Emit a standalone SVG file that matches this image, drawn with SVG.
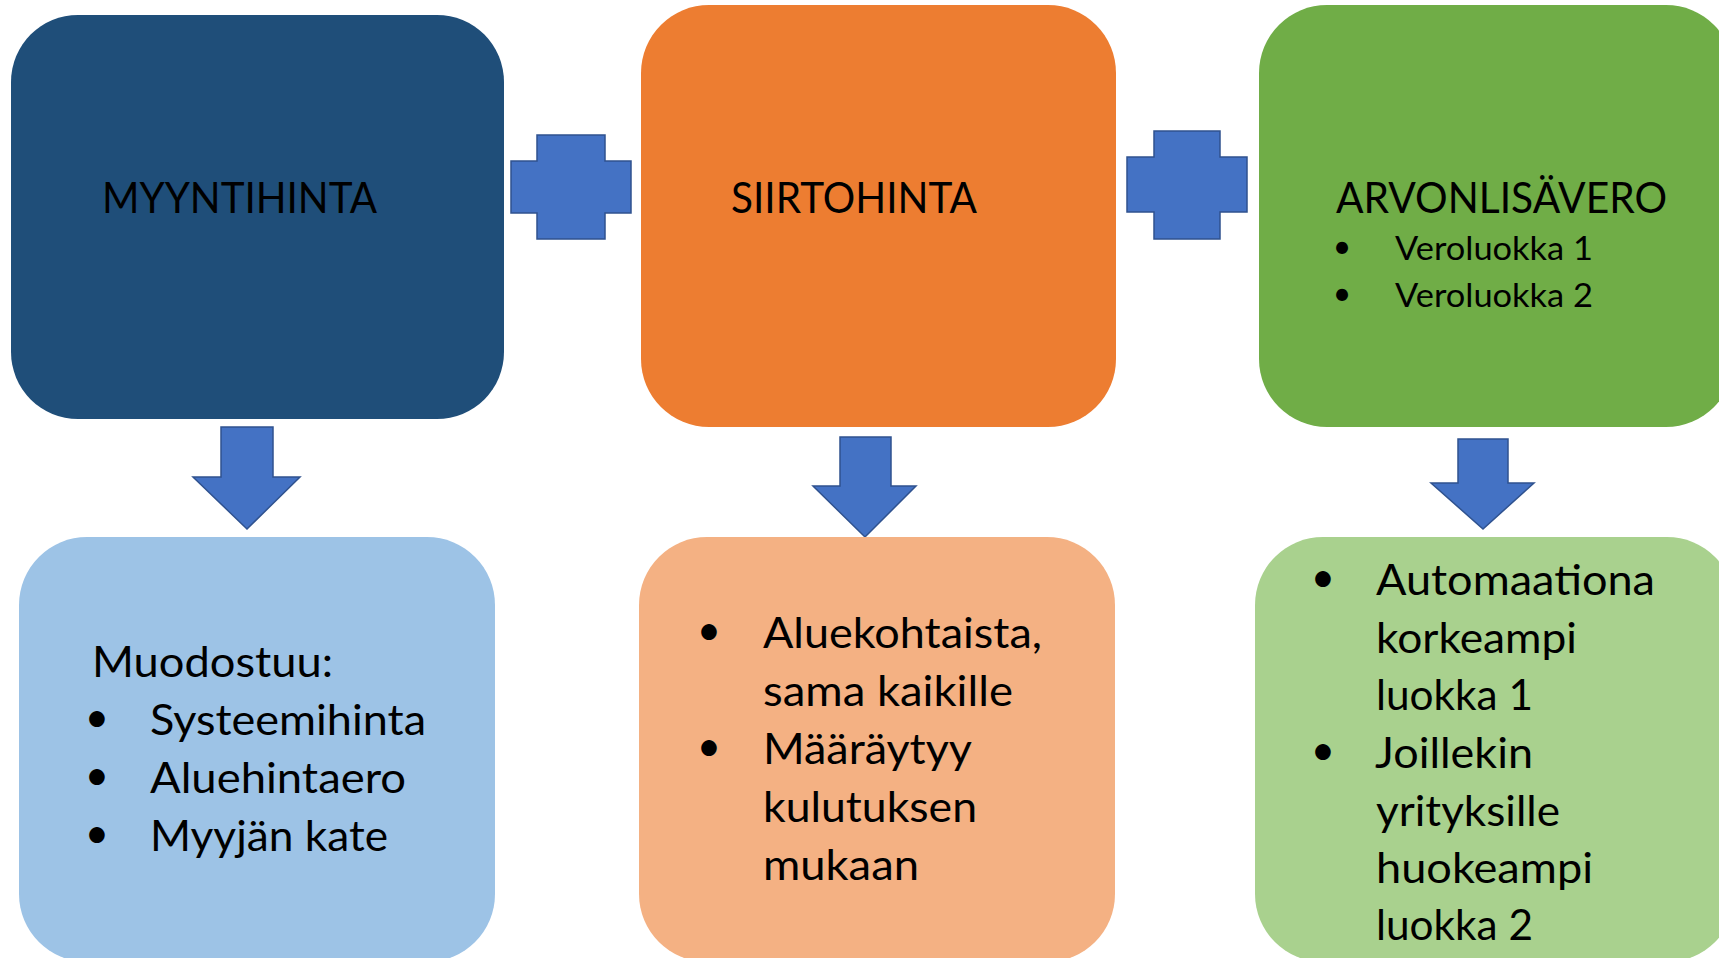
<svg xmlns="http://www.w3.org/2000/svg" width="1719" height="958" viewBox="0 0 1719 958">
<style>
.t{font-family:Lato,"Open Sans","Liberation Sans",sans-serif;fill:#000}
.h{font-size:42px}
.s{font-size:32px}
.b{font-size:42px}
.bul{text-anchor:middle}
.sym{fill:#4472C4;stroke:#2F528F;stroke-width:1.5}
</style>
<rect width="1719" height="958" fill="#fff"/>
<g id="connectors">
<polygon class="sym" points="537,135 605,135 605,161 631,161 631,213 605,213 605,239 537,239 537,213 511,213 511,161 537,161"/>
<polygon class="sym" points="1154,131 1220,131 1220,157 1247,157 1247,212 1220,212 1220,239 1154,239 1154,212 1127,212 1127,157 1154,157"/>
<polygon class="sym" points="221,427 273,427 273,477 300,477 247,529 193,477 221,477"/>
<polygon class="sym" points="840,437 891,437 891,486 916,486 865,537 813,486 840,486"/>
<polygon class="sym" points="1458,439 1508,439 1508,483 1534,483 1483,529 1431,483 1458,483"/>
</g>
<g id="myyntihinta">
<rect x="11" y="15" width="493" height="404" rx="67" fill="#1F4E79"/>
<text class="t h" x="102" y="213" textLength="275" lengthAdjust="spacingAndGlyphs">MYYNTIHINTA</text>
</g>
<g id="siirtohinta">
<rect x="641" y="5" width="475" height="422" rx="68" fill="#ED7D31"/>
<text class="t h" x="731" y="213" textLength="246" lengthAdjust="spacingAndGlyphs">SIIRTOHINTA</text>
</g>
<g id="arvonlisavero">
<rect x="1259" y="5" width="475" height="422" rx="68" fill="#70AD47"/>
<text class="t h" x="1336" y="213" textLength="331" lengthAdjust="spacingAndGlyphs">ARVONLISÄVERO</text>
<text class="t s bul" x="1342" y="258">•</text>
<text class="t s" x="1395" y="260" textLength="198" lengthAdjust="spacingAndGlyphs">Veroluokka 1</text>
<text class="t s bul" x="1342" y="305">•</text>
<text class="t s" x="1395" y="307" textLength="198" lengthAdjust="spacingAndGlyphs">Veroluokka 2</text>
</g>
<g id="muodostuu">
<rect x="19" y="537" width="476" height="425" rx="68" fill="#9DC3E6"/>
<text class="t b" x="92" y="677" textLength="241" lengthAdjust="spacingAndGlyphs">Muodostuu:</text>
<text class="t b bul" x="97" y="732">•</text>
<text class="t b" x="150" y="735" textLength="276" lengthAdjust="spacingAndGlyphs">Systeemihinta</text>
<text class="t b bul" x="97" y="790">•</text>
<text class="t b" x="150" y="793" textLength="256" lengthAdjust="spacingAndGlyphs">Aluehintaero</text>
<text class="t b bul" x="97" y="848">•</text>
<text class="t b" x="150" y="851" textLength="238" lengthAdjust="spacingAndGlyphs">Myyjän kate</text>
</g>
<g id="siirto-tiedot">
<rect x="639" y="537" width="476" height="425" rx="68" fill="#F4B183"/>
<text class="t b bul" x="709" y="645">•</text>
<text class="t b" x="763" y="648" textLength="279" lengthAdjust="spacingAndGlyphs">Aluekohtaista,</text>
<text class="t b" x="763" y="706" textLength="250" lengthAdjust="spacingAndGlyphs">sama kaikille</text>
<text class="t b bul" x="709" y="761">•</text>
<text class="t b" x="763" y="764" textLength="209" lengthAdjust="spacingAndGlyphs">Määräytyy</text>
<text class="t b" x="763" y="822" textLength="214" lengthAdjust="spacingAndGlyphs">kulutuksen</text>
<text class="t b" x="763" y="880" textLength="156" lengthAdjust="spacingAndGlyphs">mukaan</text>
</g>
<g id="vero-tiedot">
<rect x="1255" y="537" width="480" height="425" rx="68" fill="#A9D18E"/>
<text class="t b bul" x="1323" y="592">•</text>
<text class="t b" x="1376" y="595" textLength="279" lengthAdjust="spacingAndGlyphs">Automaationa</text>
<text class="t b" x="1376" y="653" textLength="201" lengthAdjust="spacingAndGlyphs">korkeampi</text>
<text class="t b" x="1376" y="710" textLength="157" lengthAdjust="spacingAndGlyphs">luokka 1</text>
<text class="t b bul" x="1323" y="765">•</text>
<text class="t b" x="1375" y="768" textLength="158" lengthAdjust="spacingAndGlyphs">Joillekin</text>
<text class="t b" x="1376" y="826" textLength="184" lengthAdjust="spacingAndGlyphs">yrityksille</text>
<text class="t b" x="1376" y="883" textLength="217" lengthAdjust="spacingAndGlyphs">huokeampi</text>
<text class="t b" x="1376" y="940" textLength="157" lengthAdjust="spacingAndGlyphs">luokka 2</text>
</g>
</svg>
